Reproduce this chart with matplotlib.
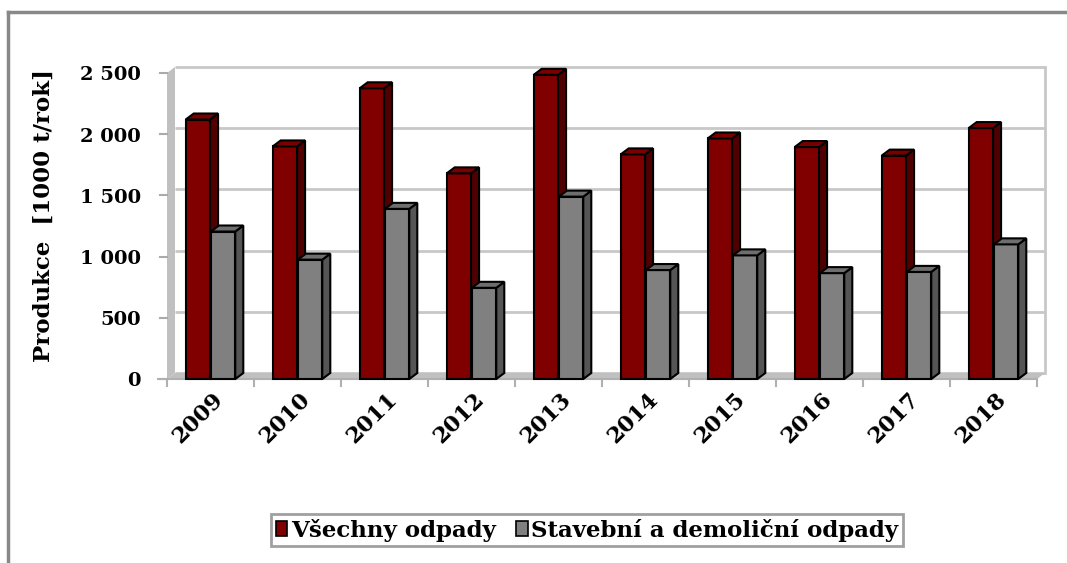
import matplotlib
matplotlib.use("Agg")
import matplotlib.pyplot as plt
from matplotlib.patches import Polygon, Patch
from matplotlib.lines import Line2D

years = ["2009", "2010", "2011", "2012", "2013", "2014", "2015", "2016", "2017", "2018"]
vsechny = [2120, 1900, 2375, 1680, 2485, 1835, 1965, 1895, 1825, 2050]
stavebni = [1205, 975, 1390, 745, 1490, 890, 1010, 865, 875, 1100]
yticks = [0, 500, 1000, 1500, 2000, 2500]
ytick_labels = ["0", "500", "1 000", "1 500", "2 000", "2 500"]
series_names = ["Všechny odpady", "Stavební a demoliční odpady"]

W, H = 1067, 563
fig = plt.figure(figsize=(W / 100, H / 100), dpi=100)
plt.rcParams['font.family'] = ['DejaVu Serif', 'Liberation Serif']

# front rectangle of the plot in pixels
x0, x1, ytop, ybot = 167, 1037, 73, 379
ax = fig.add_axes([x0 / W, (H - ybot) / H, (x1 - x0) / W, (ybot - ytop) / H])
n = len(years)
ax.set_xlim(-0.5, n - 0.5)
ax.set_ylim(0, 2500)
ax.axis('off')

# 3d depth offsets (pixels -> data)
DX = 8 / ((x1 - x0) / n)
DY = 6 / (ybot - ytop) * 2500

wall_col = '#c0c0c0'
grid_col = '#c8c8c8'
# back wall gridlines
for v in yticks:
    ax.plot([-0.5 + DX, n - 0.5 + DX], [v + DY, v + DY], color=grid_col, lw=2,
            clip_on=False, zorder=1, solid_capstyle='butt')
ax.plot([n - 0.5 + DX, n - 0.5 + DX], [DY, 2500 + DY], color=grid_col, lw=2,
        clip_on=False, zorder=1)
# left wall
ax.add_patch(Polygon([(-0.5, 0), (-0.5 + DX, DY), (-0.5 + DX, 2500 + DY), (-0.5, 2500)],
                     closed=True, fc=wall_col, ec='none', clip_on=False, zorder=1.5))
# floor
ax.add_patch(Polygon([(-0.5, 0), (n - 0.5, 0), (n - 0.5 + DX, DY), (-0.5 + DX, DY)],
                     closed=True, fc=wall_col, ec='none', clip_on=False, zorder=1.5))

# ticks on front axes
for v, lab in zip(yticks, ytick_labels):
    ax.plot([-0.5 - 0.08, -0.5], [v, v], color='#aaaaaa', lw=1.5, clip_on=False)
    ax.text(-0.5 - 0.3, v - 20, lab, ha='right', va='center',
            fontsize=14, fontweight='bold')
ax.plot([-0.6, n - 0.5], [0, 0], color='#b0b0b0', lw=1.5, clip_on=False, zorder=2)
for i in range(n + 1):
    ax.plot([i - 0.5, i - 0.5], [0, -60], color='#b0b0b0', lw=1.5, clip_on=False)


def bar3d(xl, w, h, front, side, top, z):
    ax.add_patch(Polygon([(xl, 0), (xl + w, 0), (xl + w, h), (xl, h)], closed=True,
                         fc=front, ec='black', lw=1.5, zorder=z, clip_on=False, joinstyle='miter'))
    ax.add_patch(Polygon([(xl + w, 0), (xl + w + DX, DY), (xl + w + DX, h + DY), (xl + w, h)],
                         closed=True, fc=side, ec='black', lw=1.5, zorder=z, clip_on=False))
    ax.add_patch(Polygon([(xl, h), (xl + w, h), (xl + w + DX, h + DY), (xl + DX, h + DY)],
                         closed=True, fc=top, ec='black', lw=1.5, zorder=z, clip_on=False))


bw = 0.28
for i in range(n):
    bar3d(i - bw - 0.005, bw, vsechny[i], '#800000', '#500000', '#7a0000', 3 + i * 0.1)
    bar3d(i + 0.005, bw, stavebni[i], '#808080', '#555555', '#6e6e6e', 3.05 + i * 0.1)

# category labels
for i, yr in enumerate(years):
    ax.text(i + 0.02, -75, yr, rotation=45, ha='right', va='top', rotation_mode='anchor',
            fontsize=16, fontweight='bold')

fig.text(44 / W, 1 - 216 / H, "Produkce  [1000 t/rok]", rotation=90, ha='center', va='center',
         fontsize=16.5, fontweight='bold')

handles = [Patch(fc='#800000', ec='black', lw=1.2), Patch(fc='#808080', ec='black', lw=1.2)]
leg = fig.legend(handles, series_names, loc='center', bbox_to_anchor=(587 / W, 1 - 530 / H),
                 ncol=2, frameon=True, fancybox=False, handlelength=0.5, handleheight=0.65,
                 handletextpad=0.15, columnspacing=0.9, borderpad=0.2,
                 prop={'weight': 'bold', 'size': 16.5})
leg.get_frame().set_edgecolor('#888888')
leg.get_frame().set_linewidth(2)

# outer frame (only top and left visible)
fig.add_artist(Line2D([8 / W, 8 / W], [0, 1 - 12 / H], color='#888888', lw=2.5))
fig.add_artist(Line2D([8 / W, 1], [1 - 12 / H, 1 - 12 / H], color='#888888', lw=2.5))

fig.savefig("out.png", dpi=100)
